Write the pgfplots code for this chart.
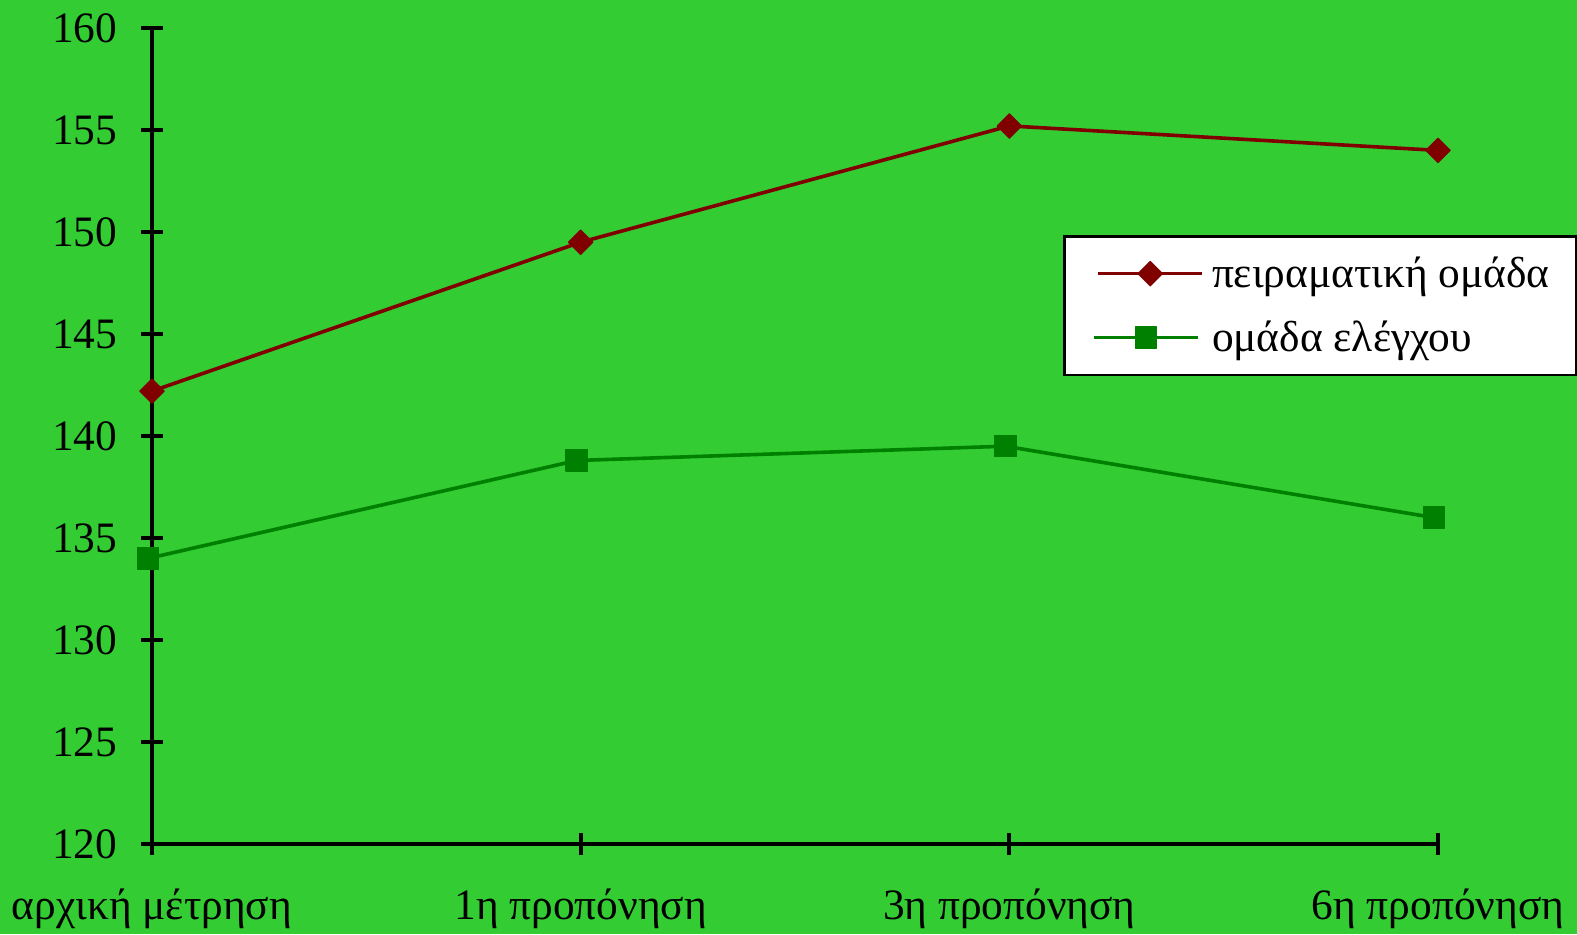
\documentclass[border=0pt]{standalone}
\usepackage{fontspec}
\setmainfont{Liberation Serif}
\usepackage{pgfplots}
\pgfplotsset{compat=1.18}
\definecolor{bg}{HTML}{33CC33}
\definecolor{expred}{HTML}{800000}
\definecolor{ctrlgreen}{HTML}{008000}
\begin{document}
\begin{tikzpicture}
\fill[bg] (0,0) rectangle (788.5pt,467pt);
\begin{axis}[
  at={(76pt,45pt)}, anchor=south west,
  scale only axis, width=643pt, height=408pt,
  xmin=0, xmax=3, ymin=120, ymax=160,
  axis x line*=bottom, axis y line*=left,
  axis line style={line width=2pt,-},
  xtick={0,1,2,3},
  xticklabels={αρχική μέτρηση,1η προπόνηση,3η προπόνηση,6η προπόνηση},
  ytick={120,125,...,160},
  tick align=center,
  major tick length=11pt,
  tick style={line width=2pt, black},
  /pgf/number format/assume math mode=true,
  ticklabel style={font=\fontsize{21.7}{26}\selectfont},
  yticklabel style={anchor=east, inner sep=0pt, xshift=-11.7pt},
  xticklabel style={anchor=base, inner sep=0pt, yshift=-32pt},
  clip=false,
  legend cell align=left,
  legend style={
    at={(0.7084,0.7465)}, anchor=north west,
    draw=black, line width=1.4pt, fill=white,
    inner xsep=13.5pt, inner ysep=2.7pt, row sep=0pt,
    font=\fontsize{21.7}{26}\selectfont,
    nodes={inner sep=0pt, minimum height=32pt},
  },
  legend image code/.code={
    \path (-0.5pt,0pt) (56pt,0pt);
    \draw[mark repeat=2,mark phase=2] plot coordinates {(0pt,0pt)(26pt,0pt)(52pt,0pt)};
  },
]
% experimental group
\addplot[color=expred, line width=1.8pt, mark=square*, mark size=4.3pt,
  mark options={rotate=45, line width=0.6pt, line join=round, fill=expred, solid}]
  coordinates {(0,142.2)(1,149.5)(2,155.2)(3,154.0)};
\addlegendentry{πειραματική ομάδα}
% control group
\addplot[color=ctrlgreen, line width=1.8pt, xshift=-2pt, mark=square*, mark size=5.3pt,
  mark options={line width=0.6pt, line join=round, fill=ctrlgreen, solid}]
  coordinates {(0,134.0)(1,138.8)(2,139.5)(3,136.0)};
\addlegendentry{ομάδα ελέγχου}
\end{axis}
\pgfresetboundingbox
\path (0,0) rectangle (788.5pt,467pt);
\end{tikzpicture}
\end{document}
